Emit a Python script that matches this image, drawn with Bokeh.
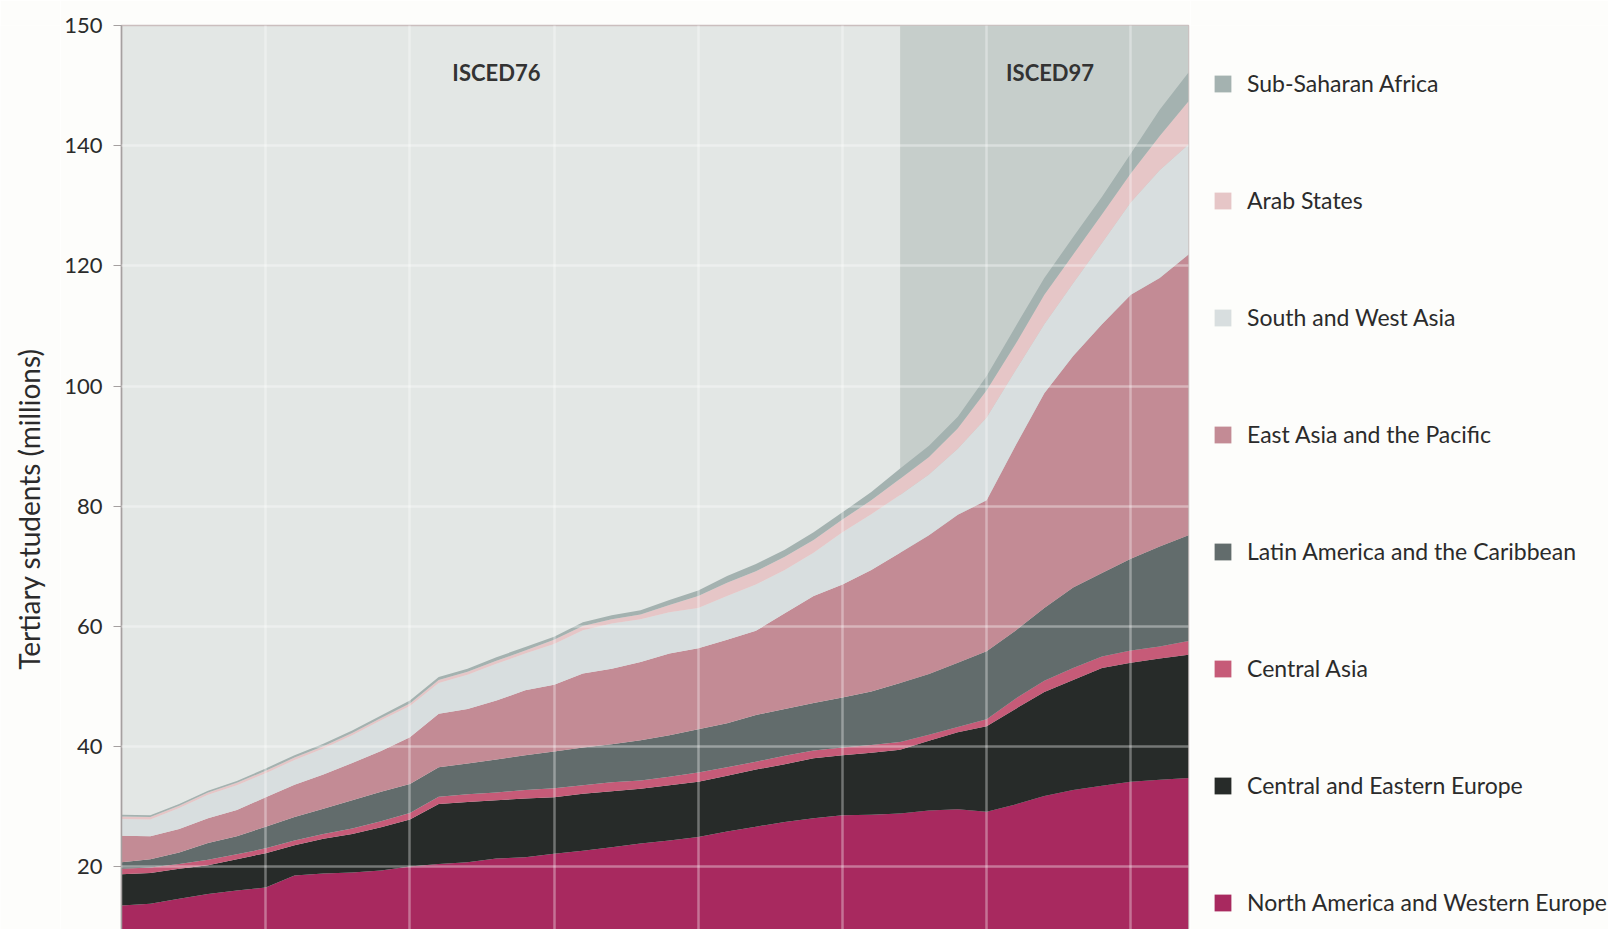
import math
from bokeh.plotting import figure
from bokeh.layouts import row
from bokeh.models import (ColumnDataSource, Legend, LegendItem, Label, BoxAnnotation,
                          Grid, FixedTicker)
from bokeh.embed import file_html
from bokeh.resources import INLINE

# ---------------- data (millions of tertiary students) ----------------
years = list(range(1970, 2008))

north_america_w_europe = [13.6, 13.9, 14.7, 15.5, 16.1, 16.6, 18.6, 18.9, 19.1, 19.4,
                          20.1, 20.5, 20.8, 21.4, 21.6, 22.2, 22.7, 23.3, 23.9, 24.4,
                          25.0, 25.9, 26.7, 27.5, 28.1, 28.6, 28.7, 28.9, 29.4, 29.6,
                          29.2, 30.4, 31.8, 32.8, 33.5, 34.2, 34.5, 34.8]
central_eastern_europe = [5.2, 5.1, 5.0, 4.8, 5.2, 5.7, 5.0, 5.8, 6.4, 7.2,
                          7.8, 10.0, 10.0, 9.7, 9.8, 9.4, 9.5, 9.3, 9.1, 9.2,
                          9.2, 9.3, 9.5, 9.6, 10.0, 10.0, 10.3, 10.6, 11.6, 12.8,
                          14.2, 15.9, 17.3, 18.3, 19.6, 19.8, 20.2, 20.5]
central_asia = [0.9, 0.9, 0.8, 0.9, 0.8, 0.8, 0.8, 0.8, 0.9, 1.0,
                1.1, 1.2, 1.3, 1.3, 1.4, 1.5, 1.4, 1.5, 1.4, 1.4,
                1.5, 1.4, 1.3, 1.4, 1.3, 1.3, 1.3, 1.3, 1.0, 0.9,
                1.2, 1.7, 1.9, 2.0, 1.9, 2.0, 2.0, 2.3]
latin_america_caribbean = [1.1, 1.4, 1.9, 2.8, 3.0, 3.6, 3.9, 4.2, 4.7, 4.9,
                           4.8, 4.9, 5.1, 5.5, 5.8, 6.1, 6.3, 6.3, 6.7, 6.9,
                           7.2, 7.3, 7.8, 7.8, 7.9, 8.3, 8.9, 9.8, 10.1, 10.7,
                           11.3, 11.3, 12.1, 13.4, 13.9, 15.3, 16.6, 17.6]
east_asia_pacific = [4.4, 3.8, 3.9, 4.1, 4.4, 4.9, 5.4, 5.7, 6.2, 6.8,
                     7.8, 8.9, 9.1, 9.8, 10.8, 11.1, 12.3, 12.6, 13.0, 13.6,
                     13.5, 13.9, 14.0, 15.9, 17.8, 18.8, 20.2, 21.7, 23.1, 24.6,
                     25.1, 30.8, 35.7, 38.5, 41.4, 43.9, 44.7, 46.7]
south_west_asia = [2.8, 2.8, 3.5, 3.9, 4.1, 4.0, 4.1, 4.3, 4.6, 5.1,
                   5.2, 5.1, 5.7, 6.1, 6.1, 6.8, 7.2, 7.5, 7.1, 6.9,
                   6.7, 7.3, 7.7, 7.2, 7.2, 8.7, 9.3, 9.6, 10.1, 11.0,
                   13.8, 12.5, 11.5, 12.1, 13.5, 15.4, 17.9, 18.3]
arab_states = [0.4, 0.4, 0.4, 0.4, 0.4, 0.4, 0.4, 0.4, 0.4, 0.4,
               0.4, 0.5, 0.5, 0.5, 0.5, 0.7, 0.7, 0.7, 0.8, 1.2,
               2.0, 2.2, 2.2, 2.2, 2.1, 2.1, 2.3, 2.7, 2.9, 3.4,
               4.5, 4.4, 4.9, 4.8, 4.8, 4.8, 5.7, 7.2]
sub_saharan_africa = [0.3, 0.3, 0.3, 0.3, 0.3, 0.4, 0.4, 0.4, 0.4, 0.4,
                      0.5, 0.5, 0.5, 0.6, 0.6, 0.5, 0.6, 0.7, 0.7, 0.8,
                      0.9, 1.1, 1.2, 1.2, 1.3, 1.2, 1.4, 1.7, 1.9, 1.9,
                      2.4, 2.9, 2.8, 2.9, 2.9, 3.3, 4.4, 4.8]

region_names = ["North America and Western Europe", "Central and Eastern Europe",
                "Central Asia", "Latin America and the Caribbean",
                "East Asia and the Pacific", "South and West Asia",
                "Arab States", "Sub-Saharan Africa"]
region_keys = ["na", "cee", "ca", "lac", "eap", "swa", "arab", "ssa"]
region_colors = ["#A8295F", "#272B29", "#C65B78", "#626C6C",
                 "#C38B95", "#D8DEDF", "#E6C6C7", "#A4B2B0"]

y_ticks = [20, 40, 60, 80, 100, 120, 140, 160]
y_tick_labels = {160: "150"}
x_grid_years = [1975, 1980, 1985, 1990, 1995, 2000, 2005]
isced97_start = 1997

FONT = "Lato"
TXT = "#2B2B2B"
PAGE_BG = "#FDFDFB"
H = 929

data = dict(year=years, na=north_america_w_europe, cee=central_eastern_europe,
            ca=central_asia, lac=latin_america_caribbean, eap=east_asia_pacific,
            swa=south_west_asia, arab=arab_states, ssa=sub_saharan_africa)
source = ColumnDataSource(data)

# ---------------- y-axis title strip ----------------
tf = figure(width=60, height=H, x_range=(0, 60), y_range=(0, H),
            output_backend="svg", toolbar_location=None, title=None,
            x_axis_location=None, y_axis_location=None, min_border=0,
            outline_line_color=None, background_fill_color=PAGE_BG,
            border_fill_color=PAGE_BG)
tf.grid.visible = False
tf.add_layout(Label(x=28, y=H - 497, text="Tertiary students (millions)",
                    angle=math.pi / 2, text_align="center", text_baseline="middle",
                    text_font=FONT, text_font_size="28px", text_color=TXT))

# ---------------- main chart ----------------
p = figure(width=1130, height=H, x_range=(1970, 2007), y_range=(9.6, 160),
           output_backend="svg", toolbar_location=None, title=None,
           x_axis_location=None,
           min_border_left=61, min_border_right=2, min_border_top=25,
           min_border_bottom=0,
           background_fill_color="#E3E7E5", border_fill_color=PAGE_BG,
           outline_line_color="#CBBEBE", outline_line_width=1.5)
p.grid.visible = False

p.add_layout(BoxAnnotation(left=isced97_start, fill_color="#C6CECB", fill_alpha=1.0,
                           line_color=None, level="underlay"))

p.varea_stack(stackers=region_keys, x="year", color=region_colors, source=source)

p.add_layout(Grid(dimension=0, ticker=FixedTicker(ticks=x_grid_years),
                  grid_line_color="white", grid_line_alpha=0.34,
                  grid_line_width=2.5, level="overlay"))
p.add_layout(Grid(dimension=1, ticker=FixedTicker(ticks=y_ticks[:-1]),
                  grid_line_color="white", grid_line_alpha=0.36,
                  grid_line_width=2.5, level="overlay"))

ax = p.yaxis[0]
ax.ticker = FixedTicker(ticks=y_ticks)
ax.major_label_overrides = y_tick_labels
ax.minor_tick_line_color = None
ax.major_tick_in = 0
ax.major_tick_out = 8
ax.major_tick_line_color = "#A5A0A0"
ax.axis_line_color = "#A5A0A0"
ax.axis_line_width = 1.5
ax.major_label_text_font = FONT
ax.major_label_text_font_size = "22px"
ax.major_label_text_color = TXT
ax.major_label_standoff = 11

for txt, xpos in [("ISCED76", 1983.0), ("ISCED97", 2002.2)]:
    p.add_layout(Label(x=xpos, y=152.1, text=txt, text_align="center",
                       text_baseline="middle", text_font=FONT,
                       text_font_size="22px", text_font_style="bold",
                       text_color="#333333"))

# ---------------- legend panel ----------------
lf = figure(width=418, height=H, x_range=(0, 1), y_range=(0, 1),
            output_backend="svg", toolbar_location=None, title=None,
            x_axis_location=None, y_axis_location=None,
            min_border=0, outline_line_color=None,
            background_fill_color=PAGE_BG, border_fill_color=PAGE_BG)
lf.grid.visible = False
# same series; their x values lie outside this panel's range, only swatches show
leg_r = lf.varea_stack(stackers=region_keys, x="year", color=region_colors,
                       source=ColumnDataSource(data))

items = [LegendItem(label=region_names[i], renderers=[leg_r[i]])
         for i in range(len(region_names) - 1, -1, -1)]
legend = Legend(items=items, location=(22, 12), orientation="vertical",
                glyph_width=21, glyph_height=21, label_text_font=FONT,
                label_text_font_size="23px", label_text_color=TXT,
                label_standoff=14, label_height=30, spacing=87, padding=0,
                margin=0, border_line_color=None, background_fill_alpha=0)
lf.add_layout(legend)

layout = row(tf, p, lf)
open("out.html", "w").write(file_html(layout, INLINE))
